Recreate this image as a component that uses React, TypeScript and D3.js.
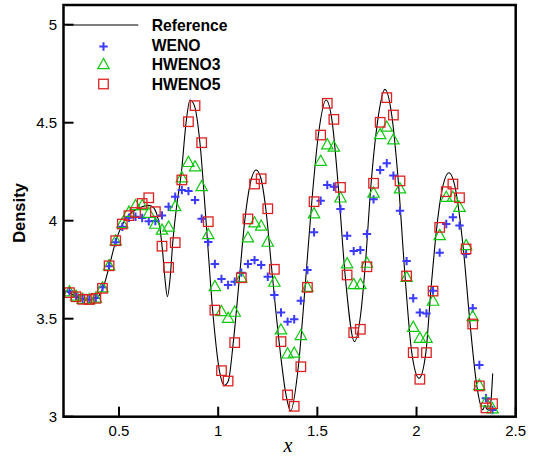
import React from "react";
import * as d3 from "d3";

// grid cell centres
const xGrid = [
  0.25, 0.2833, 0.3167, 0.35, 0.3833, 0.4167, 0.45, 0.4833, 0.5167, 0.55,
  0.5833, 0.6167, 0.65, 0.6833, 0.7167, 0.75, 0.7833, 0.8167, 0.85, 0.8833,
  0.9167, 0.95, 0.9833, 1.0167, 1.05, 1.0833, 1.1167, 1.15, 1.1833, 1.2167,
  1.25, 1.2833, 1.3167, 1.35, 1.3833, 1.4167, 1.45, 1.4833, 1.5167, 1.55,
  1.5833, 1.6167, 1.65, 1.6833, 1.7167, 1.75, 1.7833, 1.8167, 1.85, 1.8833,
  1.9167, 1.95, 1.9833, 2.0167, 2.05, 2.0833, 2.1167, 2.15, 2.1833, 2.2167,
  2.25, 2.2833, 2.3167, 2.35, 2.3833,
];

const wenoY = [
  3.64, 3.615, 3.6, 3.598, 3.605, 3.66, 3.768, 3.89, 3.969, 4.015,
  4.02, 4.014, 3.997, 3.998, 4.027, 4.071, 4.122, 4.157, 4.151, 4.105,
  4.01, 3.891, 3.779, 3.703, 3.672, 3.689, 3.735, 3.779, 3.799, 3.774,
  3.714, 3.621, 3.532, 3.485, 3.497, 3.592, 3.748, 3.941, 4.102, 4.182,
  4.173, 4.06, 3.923, 3.845, 3.85, 3.932, 4.109, 4.259, 4.293, 4.23,
  4.051, 3.794, 3.604, 3.531, 3.527, 3.643, 3.837, 3.983, 4.017, 3.975,
  3.83, 3.553, 3.264, 3.094, 3.034,
];

const hweno3Y = [
  3.64, 3.618, 3.602, 3.6, 3.608, 3.66, 3.773, 3.9, 3.988, 4.046,
  4.08, 4.08, 4.04, 3.985, 3.955, 3.97, 4.075, 4.222, 4.3, 4.278,
  4.177, 3.932, 3.667, 3.539, 3.505, 3.536, 3.711, 3.915, 3.992, 3.975,
  3.893, 3.689, 3.446, 3.323, 3.327, 3.417, 3.663, 4.038, 4.306, 4.39,
  4.378, 4.119, 3.783, 3.677, 3.677, 3.786, 4.143, 4.442, 4.48, 4.415,
  4.165, 3.714, 3.459, 3.403, 3.403, 3.592, 3.927, 4.122, 4.122, 4.071,
  3.876, 3.514, 3.162, 3.077, 3.043,
];

const hweno5Y = [
  3.633, 3.612, 3.599, 3.598, 3.604, 3.655, 3.77, 3.898, 3.983, 4.026,
  4.042, 4.088, 4.117, 4.046, 3.87, 3.762, 3.888, 4.208, 4.505, 4.587,
  4.398, 3.995, 3.544, 3.235, 3.182, 3.378, 3.709, 4.009, 4.187, 4.214,
  4.061, 3.752, 3.383, 3.111, 3.053, 3.255, 3.66, 4.097, 4.437, 4.599,
  4.517, 4.17, 3.723, 3.429, 3.446, 3.765, 4.191, 4.502, 4.628, 4.539,
  4.203, 3.718, 3.327, 3.191, 3.327, 3.641, 3.966, 4.148, 4.187, 4.117,
  3.856, 3.473, 3.157, 3.045, 3.066,
];

const refX = [
  0.22, 0.25, 0.283, 0.317, 0.35, 0.383, 0.417, 0.45, 0.483, 0.517,
  0.55, 0.583, 0.62, 0.65, 0.675, 0.69, 0.705, 0.72, 0.732, 0.744,
  0.757, 0.771, 0.79, 0.815, 0.838, 0.858, 0.88, 0.908, 0.939, 0.972,
  1.006, 1.031, 1.051, 1.076, 1.107, 1.135, 1.161, 1.191, 1.216, 1.24,
  1.27, 1.307, 1.342, 1.365, 1.404, 1.438, 1.472, 1.505, 1.544, 1.573,
  1.606, 1.64, 1.687, 1.719, 1.741, 1.771, 1.803, 1.841, 1.875, 1.908,
  1.942, 1.976, 2.013, 2.047, 2.072, 2.102, 2.127, 2.164, 2.191, 2.236,
  2.27, 2.304, 2.334, 2.345, 2.355, 2.368, 2.377, 2.384,
];
const refY = [
  3.64, 3.633, 3.613, 3.6, 3.597, 3.604, 3.65, 3.765, 3.893, 3.98,
  4.03, 4.055, 4.072, 4.078, 4.065, 4.035, 3.97, 3.84, 3.7, 3.612,
  3.7, 3.89, 4.07, 4.25, 4.5, 4.616, 4.587, 4.398, 3.995, 3.544,
  3.235, 3.16, 3.182, 3.378, 3.709, 4.009, 4.187, 4.259, 4.214, 4.061,
  3.752, 3.383, 3.111, 3.03, 3.255, 3.66, 4.097, 4.437, 4.616, 4.517,
  4.17, 3.723, 3.383, 3.528, 3.765, 4.191, 4.502, 4.67, 4.539, 4.203,
  3.718, 3.327, 3.196, 3.327, 3.641, 3.966, 4.148, 4.245, 4.187, 3.856,
  3.473, 3.157, 3.035, 3.058, 3.038, 3.042, 3.1, 3.22,
];

const xTicks = [0.5, 1, 1.5, 2, 2.5];
const xTickLabels = ["0.5", "1", "1.5", "2", "2.5"];
const yTicks = [3, 3.5, 4, 4.5, 5];
const yTickLabels = ["3", "3.5", "4", "4.5", "5"];
const legendLabels = ["Reference", "WENO", "HWENO3", "HWENO5"];

const W = 533;
const H = 460;
const L = 63.5, R = 515.7, T = 5, B = 416.7;
const BLUE = "#3b3bff";
const GREEN = "#10c810";
const RED = "#dd2020";
const FONT = "'Liberation Sans', Arial, Helvetica, sans-serif";

const plusPath = "M-4.2,0H4.2M0,-4.2V4.2";
const triPath = "M0,-5.6L5.7,4.6L-5.7,4.6Z";

export default function App() {
  const x = d3.scaleLinear().domain([0.2201, 2.5]).range([L, R]);
  const y = d3.scaleLinear().domain([3, 5.1]).range([B, B - 2.1 * 196]);

  const refPts = refX.map((v, i) => [v, refY[i]] as [number, number]);
  const line = d3
    .line<[number, number]>()
    .x((d) => x(d[0]))
    .y((d) => y(d[1]))
    .curve(d3.curveMonotoneX);

  const legendRows = [25, 45, 64.5, 84];
  const legendMarkX = 103.5;

  return (
    <svg
      width={W}
      height={H}
      style={{ position: "absolute", left: 0, top: 0, background: "#fff" }}
      fontFamily={FONT}
    >
      <rect x={0} y={0} width={W} height={H} fill="#fff" />
      <defs>
        <clipPath id="plotclip">
          <rect x={L} y={T} width={R - L} height={B - T} />
        </clipPath>
      </defs>

      {/* reference line */}
      <path d={line(refPts) || ""} fill="none" stroke="#000" strokeWidth={1.1} clipPath="url(#plotclip)" />

      {/* WENO */}
      {xGrid.map((xv, i) => (
        <path
          key={"w" + i}
          d={plusPath}
          transform={`translate(${x(xv)},${y(wenoY[i])})`}
          stroke={BLUE}
          strokeWidth={2}
          fill="none"
        />
      ))}
      {/* HWENO3 */}
      {xGrid.map((xv, i) => (
        <path
          key={"h3" + i}
          d={triPath}
          transform={`translate(${x(xv)},${y(hweno3Y[i])})`}
          stroke={GREEN}
          strokeWidth={1.2}
          fill="none"
        />
      ))}
      {/* HWENO5 */}
      {xGrid.map((xv, i) => (
        <rect
          key={"h5" + i}
          x={x(xv) - 4.75}
          y={y(hweno5Y[i]) - 4.75}
          width={9.5}
          height={9.5}
          stroke={RED}
          strokeWidth={1.3}
          fill="none"
        />
      ))}

      {/* frame */}
      <rect x={L} y={T} width={R - L} height={B - T} fill="none" stroke="#000" strokeWidth={2.5} />

      {/* x ticks */}
      {xTicks.map((t, i) => (
        <g key={"xt" + i}>
          <line x1={x(t)} x2={x(t)} y1={B} y2={B - 10} stroke="#000" strokeWidth={2} />
          <text x={x(t)} y={435.5} textAnchor="middle" fontSize={15} fill="#000">
            {xTickLabels[i]}
          </text>
        </g>
      ))}
      {/* y ticks */}
      {yTicks.map((t, i) => (
        <g key={"yt" + i}>
          <line x1={L} x2={L + 10} y1={y(t)} y2={y(t)} stroke="#000" strokeWidth={2} />
          <text x={57} y={y(t) + 5.4} textAnchor="end" fontSize={15} fill="#000">
            {yTickLabels[i]}
          </text>
        </g>
      ))}

      {/* axis titles */}
      <text
        transform="translate(25,213) rotate(-90)"
        textAnchor="middle"
        fontSize={16.5}
        fontWeight="bold"
        fill="#000"
      >
        Density
      </text>
      <text
        x={288}
        y={452}
        textAnchor="middle"
        fontSize={20}
        fontStyle="italic"
        fontFamily="'Liberation Serif', 'Times New Roman', serif"
        fill="#000"
      >
        x
      </text>

      {/* legend */}
      <line x1={66.7} x2={138.3} y1={legendRows[0]} y2={legendRows[0]} stroke="#000" strokeWidth={1.1} />
      <path d={plusPath} transform={`translate(${legendMarkX},${legendRows[1] + 1.5})`} stroke={BLUE} strokeWidth={2} fill="none" />
      <path d={triPath} transform={`translate(${legendMarkX},${legendRows[2] - 0.5})`} stroke={GREEN} strokeWidth={1.2} fill="none" />
      <rect x={legendMarkX - 4.75} y={legendRows[3] - 4.75} width={9.5} height={9.5} stroke={RED} strokeWidth={1.3} fill="none" />
      {legendLabels.map((lab, i) => (
        <text key={"lg" + i} x={151.7} y={legendRows[i] + 5.6} fontSize={15.7} fontWeight="bold" fill="#000">
          {lab}
        </text>
      ))}
    </svg>
  );
}
